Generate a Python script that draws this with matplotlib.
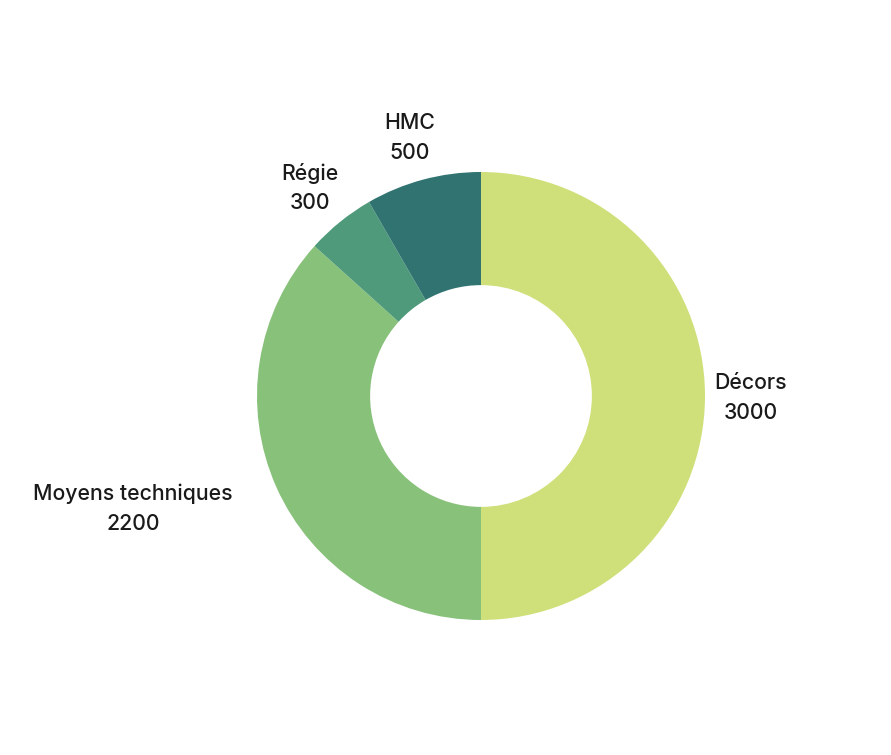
import matplotlib
matplotlib.use("Agg")
import matplotlib.pyplot as plt

categories = ["Décors", "Moyens techniques", "Régie", "HMC"]
values = [3000, 2200, 300, 500]
colors = ["#cfe07a", "#88c17a", "#4f9a7a", "#307370"]

W, H = 891, 755
fig = plt.figure(figsize=(W / 100, H / 100), dpi=100)
ax = fig.add_axes([0, 0, 1, 1])

cx, cy, R = 481, H - 396, 224
wedges, _ = ax.pie(values, colors=colors, startangle=90, counterclock=False,
                   radius=R, center=(cx, cy), frame=True,
                   wedgeprops=dict(width=R * 0.505, linewidth=0))
ax.set_xlim(0, W)
ax.set_ylim(0, H)
ax.axis("off")

# label centres (pixels from top-left)
label_pos = [(751, 398), (133, 509), (310, 188), (410, 138)]
for name, v, (x, y) in zip(categories, values, label_pos):
    ax.text(x, H - y, f"{name}\n{v}", ha="center", va="center",
            fontsize=15.3, family=["Inter", "DejaVu Sans"], color="#1a1a1a",
            fontweight="medium", linespacing=1.6)

fig.savefig("out.png", dpi=100, facecolor="white")
